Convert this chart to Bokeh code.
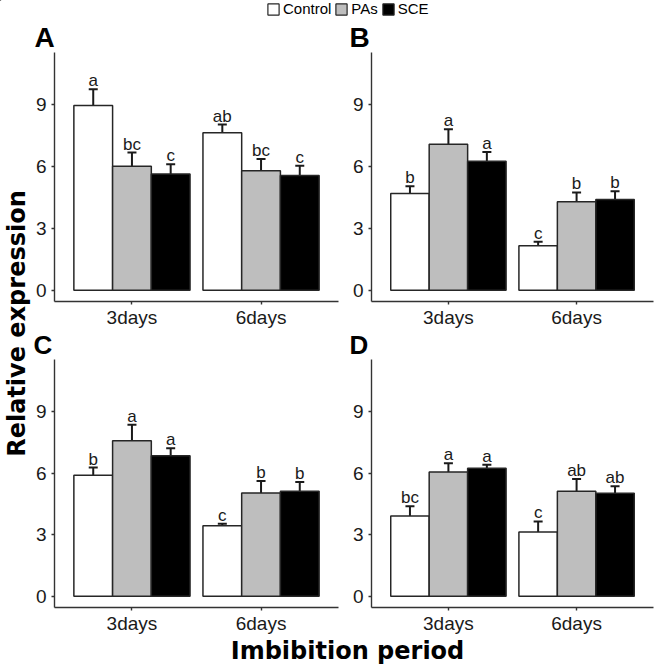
import math
from bokeh.plotting import figure
from bokeh.layouts import column, row
from bokeh.models import (FactorRange, Range1d, FixedTicker, ColumnDataSource, Whisker,
                          TeeHead, Label, Legend, LegendItem)
from bokeh.transform import dodge
from bokeh.core.properties import value
from bokeh.embed import file_html
from bokeh.resources import INLINE

# ---------------- data ----------------
categories = ["3days", "6days"]
treatments = ["Control", "PAs", "SCE"]
colors = ["#FFFFFF", "#BEBEBE", "#000000"]
y_ticks = [0, 3, 6, 9]
panel_letters_top = ["A", "B"]
panel_letters_bottom = ["C", "D"]

A_mean = {"Control": [8.97, 7.65], "PAs": [6.02, 5.80], "SCE": [5.64, 5.57]}
A_err = {"Control": [0.79, 0.40], "PAs": [0.67, 0.57], "SCE": [0.48, 0.48]}
A_lab = {"Control": ["a", "ab"], "PAs": ["bc", "bc"], "SCE": ["c", "c"]}

B_mean = {"Control": [4.70, 2.16], "PAs": [7.09, 4.30], "SCE": [6.26, 4.41]}
B_err = {"Control": [0.35, 0.19], "PAs": [0.73, 0.45], "SCE": [0.45, 0.40]}
B_lab = {"Control": ["b", "c"], "PAs": ["a", "b"], "SCE": ["a", "b"]}

C_mean = {"Control": [5.90, 3.44], "PAs": [7.59, 5.04], "SCE": [6.85, 5.12]}
C_err = {"Control": [0.38, 0.10], "PAs": [0.78, 0.58], "SCE": [0.37, 0.45]}
C_lab = {"Control": ["b", "c"], "PAs": ["a", "b"], "SCE": ["a", "b"]}

D_mean = {"Control": [3.91, 3.13], "PAs": [6.06, 5.12], "SCE": [6.25, 5.02]}
D_err = {"Control": [0.48, 0.52], "PAs": [0.43, 0.60], "SCE": [0.16, 0.34]}
D_lab = {"Control": ["bc", "c"], "PAs": ["a", "ab"], "SCE": ["a", "ab"]}

# ---------------- styling ----------------
AX = "#333333"
TICK_FONT = "Liberation Sans"
BOLD_FONT = "DejaVu Sans"
Y0, Y1 = -0.55, 11.55          # ggplot ylim 0..11 with 5% expansion


def strip(width, height, ytop, ybottom):
    f = figure(width=width, height=height, x_range=Range1d(0, width),
               y_range=Range1d(ybottom, ytop),
               toolbar_location=None, output_backend="svg", min_border=0,
               x_axis_type=None, y_axis_type=None, outline_line_color=None)
    f.xgrid.visible = False
    f.ygrid.visible = False
    return f


def panel(means, errs, labs, width, height, left, right):
    p = figure(width=width, height=height,
               x_range=FactorRange(factors=categories, range_padding=0.1,
                                   range_padding_units="absolute"),
               y_range=Range1d(Y0, Y1),
               toolbar_location=None, output_backend="svg",
               min_border_left=left, min_border_right=right,
               min_border_top=0, min_border_bottom=27,
               outline_line_color=None, background_fill_color="white",
               border_fill_color="white")
    p.xgrid.visible = False
    p.ygrid.visible = False
    for i, t in enumerate(treatments):
        off = (i - 1) * 0.3
        src = ColumnDataSource(dict(
            x=categories, top=means[t],
            upper=[m + e for m, e in zip(means[t], errs[t])],
            lower=[m - e for m, e in zip(means[t], errs[t])],
            lab=labs[t]))
        xs = dodge("x", off, range=p.x_range)
        p.vbar(x=xs, top="top", bottom=0, width=0.3, source=src,
               fill_color=colors[i], line_color="#262626", line_width=1.5)
        w = Whisker(base=xs, upper="upper", lower="lower", source=src,
                    line_color="#1a1a1a", line_width=2,
                    upper_head=TeeHead(size=9, line_width=2, line_color="#1a1a1a"),
                    lower_head=TeeHead(size=9, line_width=2, line_color="#1a1a1a"))
        p.add_layout(w)
        p.text(x=xs, y="upper", text="lab", source=src, text_align="center",
               text_baseline="bottom", y_offset=1,
               text_font=value(TICK_FONT), text_font_size="17px", text_color="#1a1a1a")
    for ax in (p.xaxis[0], p.yaxis[0]):
        ax.axis_line_color = AX
        ax.axis_line_width = 1.4
        ax.major_tick_line_color = AX
        ax.major_tick_line_width = 1.4
        ax.major_tick_out = 3
        ax.major_tick_in = 0
        ax.minor_tick_line_color = None
        ax.major_label_text_font = TICK_FONT
        ax.major_label_text_font_size = "19px"
        ax.major_label_text_color = "#1a1a1a"
    p.yaxis.ticker = FixedTicker(ticks=y_ticks)
    p.yaxis.major_label_standoff = 5
    p.xaxis.major_label_standoff = 2
    return p


pA = panel(A_mean, A_err, A_lab, 317, 278, 20, 11)
pB = panel(B_mean, B_err, B_lab, 317, 278, 21, 13)
pC = panel(C_mean, C_err, C_lab, 317, 277, 20, 11)
pD = panel(D_mean, D_err, D_lab, 317, 277, 21, 13)

# top strip: legend + letters A, B  (y coordinates = pixels from the strip top)
top = strip(666, 52, 0, 52)
items = []
for t, c in zip(treatments, colors):
    # legend-only renderer: its single point lies outside the strip's visible range
    r = top.vbar(x=[-50], top=[-50], bottom=[-60], width=5, fill_color=c,
                 line_color="#262626", line_width=1.2)
    items.append(LegendItem(label=t, renderers=[r]))
leg = Legend(items=items, orientation="horizontal", location=(266, 35),
             glyph_width=14, glyph_height=14, label_standoff=3, spacing=3,
             padding=0, margin=0, border_line_color=None, background_fill_alpha=0,
             label_text_font=TICK_FONT, label_text_font_size="15px",
             label_height=14, label_text_color="black")
top.add_layout(leg)
top.text(x=[34, 349], y=[52, 52], text=panel_letters_top, text_align="left",
         text_baseline="bottom", text_font=value(TICK_FONT), text_font_style="bold",
         text_font_size="28px", text_color="black")

# middle strip: letters C, D (starts at x = 32, below row 1)
mid = strip(634, 29, 0, 29)
mid.text(x=[1, 317], y=[29, 29], text=panel_letters_bottom, text_align="left",
         text_baseline="bottom", text_font=value(TICK_FONT), text_font_style="bold",
         text_font_size="26px", text_color="black")

# y label strip
yf = strip(32, 584, 0, 584)
yf.add_layout(Label(x=16, y=271, text="Relative expression", angle=math.pi / 2,
                    text_align="center", text_baseline="middle",
                    text_font=BOLD_FONT, text_font_style="bold", text_line_height=1.0,
                    text_font_size="24px", text_color="black"))

# x label strip
xf = strip(666, 29, 0, 29)
xf.add_layout(Label(x=347, y=14, text="Imbibition period",
                    text_align="center", text_baseline="middle",
                    text_font=BOLD_FONT, text_font_style="bold", text_line_height=1.0,
                    text_font_size="24px", text_color="black"))

layout = column(top,
                row(yf, column(row(pA, pB), mid, row(pC, pD))),
                xf)

open("out.html", "w").write(file_html(layout, INLINE))
